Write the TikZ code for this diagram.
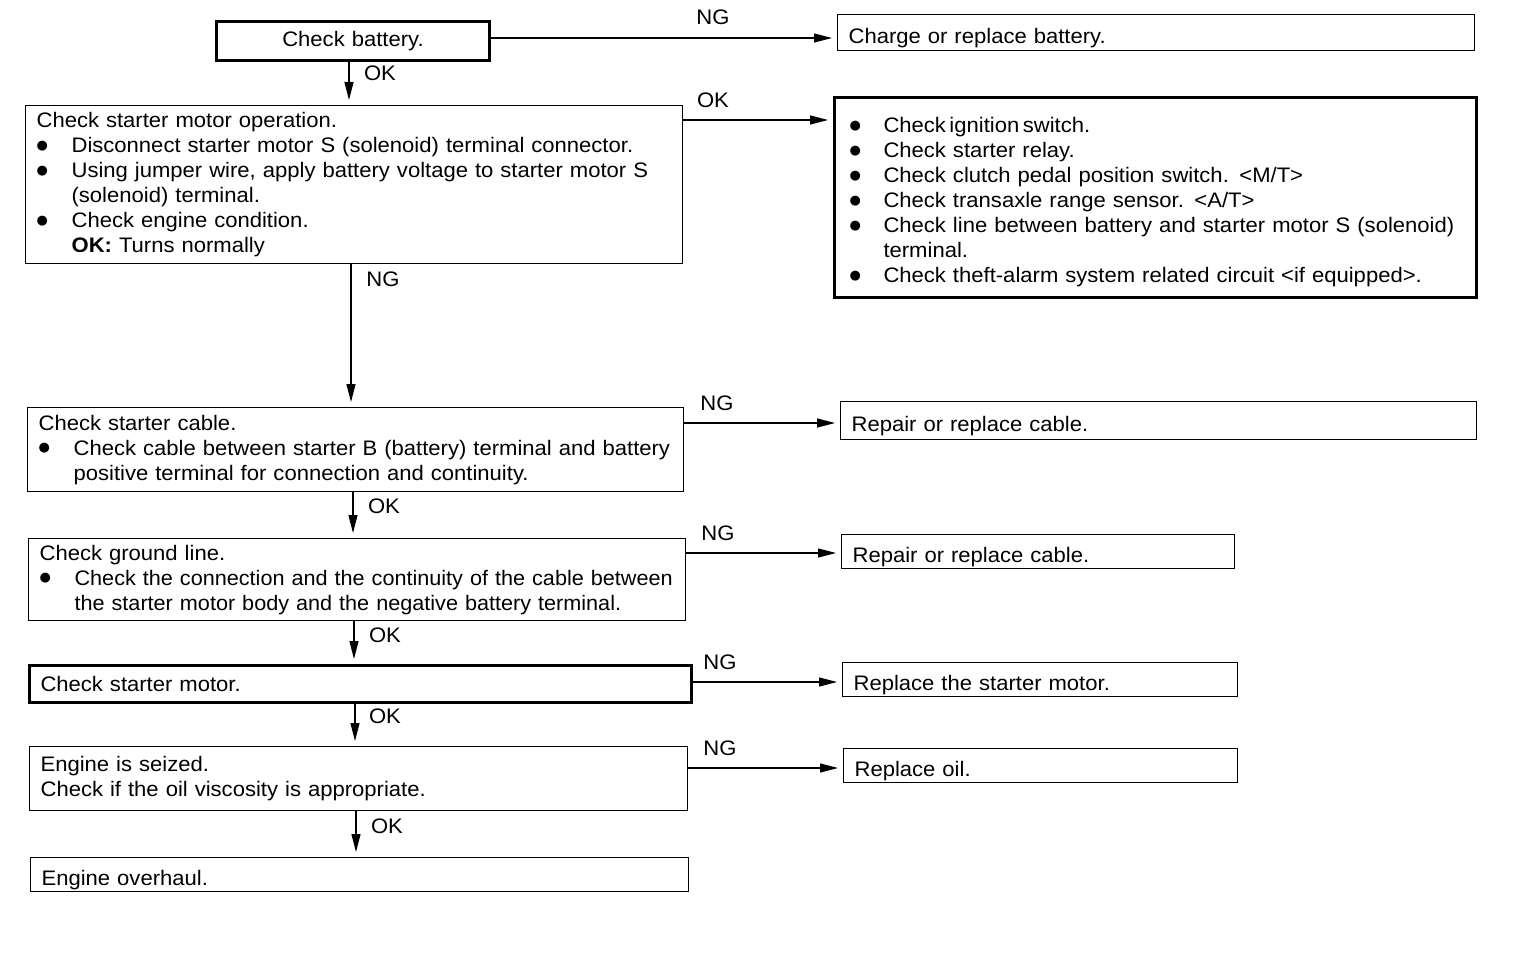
\documentclass[tikz,border=0pt]{standalone}
\usepackage{fontspec}
\setmainfont[FakeStretch=1.05]{Liberation Sans}
\newfontfamily\dvsfont{DejaVu Sans}
\newfontfamily\narrowfont[FakeStretch=1.03]{Liberation Sans}
\usetikzlibrary{arrows.meta}
\newlength\bindent \setlength\bindent{35pt}
\newlength\boff \setlength\boff{0pt}
\newcommand\bigdot{\raisebox{3.5pt}{\dvsfont\fontsize{13}{0}\selectfont ●}}
\newcommand\bitem[1]{\par\hangindent=\bindent\hangafter=1\noindent\makebox[\bindent][l]{\hspace*{\boff}\bigdot}#1}
\begin{document}
\begin{tikzpicture}[x=1pt,y=-1pt,
  box/.style={draw, line width=1.2pt, anchor=north west, inner xsep=11pt, inner ysep=0pt,
    align=left, font=\fontsize{21}{25}\selectfont},
  thickbox/.style={box, line width=3pt},
  one/.style={text height=22pt, text depth=0pt},
  lbl/.style={font=\fontsize{21}{22}\selectfont, inner sep=0pt},
  arr/.style={line width=1.2pt, shorten >=5pt, -{Triangle[length=18pt,width=9pt]}}]
\useasboundingbox (0,0) rectangle (1520,976);

% left column
\node[thickbox, align=center, minimum width=273pt, minimum height=39pt, text width=251pt] (b1) at (215,20) {Check battery.};
\node[box, minimum width=657pt, minimum height=158pt, text width=635pt] (b3) at (25,105) {Check starter motor operation.
\bitem{\mbox{Disconnect starter motor S (solenoid) terminal connector.}}
\bitem{\mbox{Using jumper wire, apply battery voltage to starter motor S}\newline (solenoid) terminal.}
\bitem{Check engine condition.\newline \textbf{OK:} Turns normally}\par};
\node[box, minimum width=656pt, minimum height=84pt, text width=634pt] (b5) at (27,407) {Check starter cable.
\bitem{\mbox{Check cable between starter B (battery) terminal and battery}\newline \mbox{positive terminal for connection and continuity.}}\par};
\node[box, minimum width=657pt, minimum height=82pt, text width=635pt] (b7) at (28,538) {Check ground line.
\bitem{\mbox{\narrowfont Check the connection and the continuity of the cable between}\newline \mbox{\narrowfont the starter motor body and the negative battery terminal.}}\par};
\node[thickbox, minimum width=662pt, minimum height=37pt, text width=640pt] (b9) at (28,664) {Check starter motor.};
\node[box, minimum width=658pt, minimum height=64pt, text width=636pt] (b11) at (29,746) {Engine is seized.\\Check if the oil viscosity is appropriate.};
\node[box, one, minimum width=658pt, minimum height=34pt, text width=636pt] (b13) at (30,857) {Engine overhaul.};

% right column
\node[box, one, minimum width=637pt, minimum height=36pt, text width=615pt] (b2) at (837,14) {Charge or replace battery.};
\node[thickbox, inner xsep=8pt, minimum width=642pt, minimum height=200pt, text width=626pt] (b4) at (833,96) {\setlength\bindent{41pt}\setlength\boff{7pt}%
\bitem{Check\,ignition\,switch.}
\bitem{Check starter relay.}
\bitem{Check clutch pedal position switch. <M/T>}
\bitem{Check transaxle range sensor. <A/T>}
\bitem{\mbox{Check line between battery and starter motor S (solenoid)}\newline terminal.}
\bitem{\mbox{Check theft-alarm system related circuit <if equipped>.}}\par};
\node[box, one, minimum width=636pt, minimum height=38pt, text width=614pt] (b6) at (840,401) {Repair or replace cable.};
\node[box, one, minimum width=393pt, minimum height=34pt, text width=371pt] (b8) at (841,534) {Repair or replace cable.};
\node[box, one, minimum width=395pt, minimum height=34pt, text width=373pt] (b10) at (842,662) {Replace the starter motor.};
\node[box, one, minimum width=394pt, minimum height=34pt, text width=372pt] (b12) at (843,748) {Replace oil.};

% horizontal connectors
\draw[arr] (b1.east |- 0,38) -- (b2.west |- 0,38);
\draw[arr] (b3.east |- 0,120) -- (b4.west |- 0,120);
\draw[arr] (b5.east |- 0,423) -- (b6.west |- 0,423);
\draw[arr] (b7.east |- 0,553) -- (b8.west |- 0,553);
\draw[arr] (b9.east |- 0,682) -- (b10.west |- 0,682);
\draw[arr] (b11.east |- 0,768) -- (b12.west |- 0,768);

% vertical connectors
\draw[arr] (b1.south -| 349,0) -- (b3.north -| 349,0);
\draw[arr] (b3.south -| 351,0) -- (b5.north -| 351,0);
\draw[arr] (b5.south -| 353,0) -- (b7.north -| 353,0);
\draw[arr] (b7.south -| 354,0) -- (b9.north -| 354,0);
\draw[arr] (b9.south -| 355,0) -- (b11.north -| 355,0);
\draw[arr] (b11.south -| 356,0) -- (b13.north -| 356,0);

% labels
\node[lbl] (l1) at (713,17) {NG};
\node[lbl] (l2) at (380,73) {OK};
\node[lbl] (l3) at (713,100) {OK};
\node[lbl] (l4) at (383,279) {NG};
\node[lbl] (l5) at (717,403) {NG};
\node[lbl] (l6) at (384,506) {OK};
\node[lbl] (l7) at (718,533) {NG};
\node[lbl] (l8) at (385,635) {OK};
\node[lbl] (l9) at (720,662) {NG};
\node[lbl] (l10) at (385,716) {OK};
\node[lbl] (l11) at (720,748) {NG};
\node[lbl] (l12) at (387,826) {OK};
\end{tikzpicture}
\end{document}
